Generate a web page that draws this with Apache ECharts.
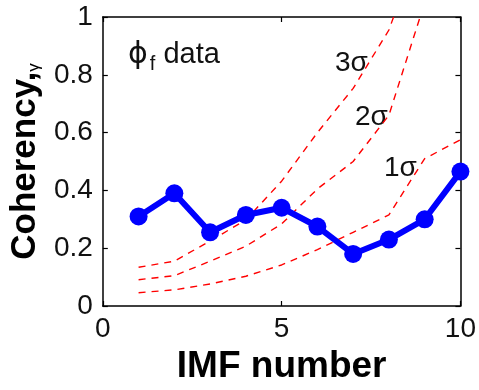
<!DOCTYPE html>
<html>
<head>
<meta charset="utf-8">
<script src="https://cdn.jsdelivr.net/npm/echarts@6/dist/echarts.min.js"></script>
<style>html,body{margin:0;padding:0;background:#fff}#c{width:479px;height:390px}</style>
</head>
<body>
<div id="c"></div>
<script>
var imf = [1, 2, 3, 4, 5, 6, 7, 8, 9, 10];
var coherency = [0.31, 0.39, 0.255, 0.315, 0.34, 0.275, 0.18, 0.23, 0.30, 0.465];
var sigma1 = [0.046, 0.056, 0.076, 0.103, 0.142, 0.195, 0.255, 0.315, 0.51, 0.575];
var sigma2 = [0.091, 0.105, 0.155, 0.207, 0.284, 0.405, 0.5, 0.66, 1.05];
var sigma3 = [0.134, 0.155, 0.225, 0.298, 0.432, 0.60, 0.753, 0.955, 1.3];
var xTicks = [0, 5, 10];
var yTicks = [0, 0.2, 0.4, 0.6, 0.8, 1];

function pairs(xs, ys) { return ys.map(function (v, i) { return [xs[i], v]; }); }

var chart = echarts.init(document.getElementById('c'), null, { renderer: 'canvas' });
var font = 'Liberation Sans, Arial, sans-serif';
var lineStyle = { color: '#000', width: 1.5 };
var tickStyle = { show: true, inside: true, length: 5, lineStyle: { color: '#000', width: 1.2 } };
function axLine() { return { show: true, onZero: false, lineStyle: lineStyle }; }

function redSeries(data) {
  return {
    type: 'line', data: pairs(imf, data), showSymbol: false, symbol: 'none',
    lineStyle: { color: '#ff0000', width: 1.4, type: [7, 6] }, clip: true, z: 2, animation: false
  };
}

chart.setOption({
  animation: false,
  backgroundColor: '#fff',
  grid: { left: 100, right: 11, top: 17, bottom: 84, show: false },
  xAxis: [{
    type: 'value', min: xTicks[0], max: xTicks[xTicks.length - 1], interval: 5, position: 'bottom',
    axisLine: axLine(), axisTick: tickStyle, splitLine: { show: false },
    axisLabel: { fontSize: 28, color: '#111', fontFamily: font, margin: 9 },
    name: 'IMF number', nameLocation: 'middle', nameGap: 39,
    nameTextStyle: { fontSize: 37, fontWeight: 'bold', color: '#000', fontFamily: font }
  }, {
    type: 'value', min: 0, max: 10, interval: 5, position: 'top',
    axisLine: axLine(), axisTick: tickStyle, splitLine: { show: false },
    axisLabel: { show: false }
  }],
  yAxis: [{
    type: 'value', min: yTicks[0], max: yTicks[yTicks.length - 1], interval: 0.2, position: 'left',
    axisLine: axLine(), axisTick: tickStyle, splitLine: { show: false },
    axisLabel: { fontSize: 28, color: '#111', fontFamily: font, margin: 10 },
    name: '{a|Coherency,}{b|γ}', nameLocation: 'middle', nameGap: 58, nameRotate: 90,
    nameTextStyle: {
      color: '#000', fontFamily: font,
      rich: {
        a: { fontSize: 35, fontWeight: 'bold', fontFamily: font, color: '#000' },
        b: { fontSize: 17, fontFamily: font, color: '#000', verticalAlign: 'bottom', padding: [12, 0, 0, 0] }
      }
    }
  }, {
    type: 'value', min: 0, max: 1, interval: 0.2, position: 'right',
    axisLine: axLine(), axisTick: tickStyle, splitLine: { show: false },
    axisLabel: { show: false }
  }],
  series: [
    redSeries(sigma1), redSeries(sigma2), redSeries(sigma3),
    {
      type: 'line', data: pairs(imf, coherency), symbol: 'circle', symbolSize: 18,
      itemStyle: { color: '#0000ff' }, lineStyle: { color: '#0000ff', width: 6 }, z: 5, animation: false
    }
  ],
  graphic: [
    { type: 'text', left: 128, top: 40, style: { text: '{p|ϕ}{s|f}{t| data}', rich: {
        p: { fontSize: 30, fontFamily: 'DejaVu Sans, sans-serif', fill: '#111' },
        s: { fontSize: 20, fontFamily: font, fill: '#111', padding: [18, 0, 0, 2] },
        t: { fontSize: 29, fontFamily: font, fill: '#111' } } } },
    { type: 'text', left: 335, top: 49, style: { text: '3σ', fontSize: 28, fontFamily: font, fill: '#111' } },
    { type: 'text', left: 355, top: 103, style: { text: '2σ', fontSize: 28, fontFamily: font, fill: '#111' } },
    { type: 'text', left: 384, top: 154, style: { text: '1σ', fontSize: 28, fontFamily: font, fill: '#111' } }
  ]
});
</script>
</body>
</html>
